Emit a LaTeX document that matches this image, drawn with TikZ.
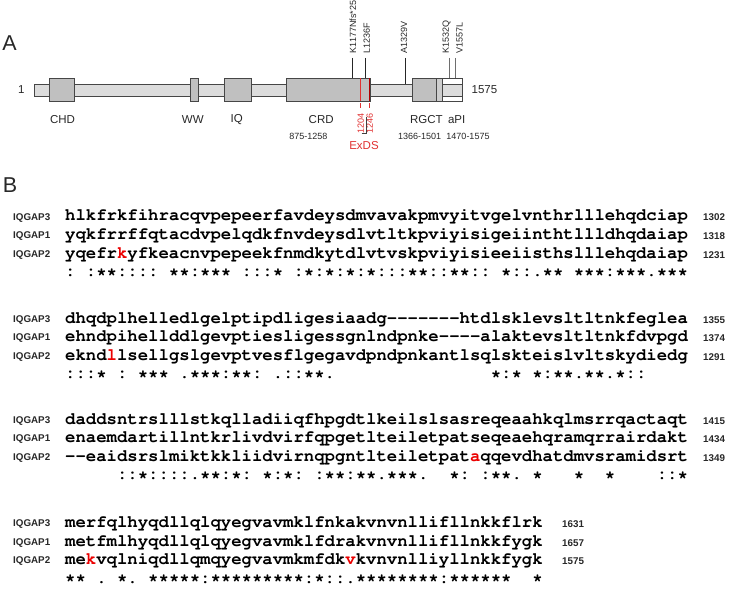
\documentclass[tikz,border=0pt]{standalone}
\usepackage[T1]{fontenc}
\usepackage{fontspec}
\setmainfont{Liberation Sans}
\setmonofont{Liberation Mono}
\definecolor{barc}{RGB}{220,220,220}
\definecolor{domc}{RGB}{192,192,192}
\definecolor{ovc}{RGB}{205,205,205}
\definecolor{edgec}{RGB}{70,70,70}
\definecolor{txtc}{RGB}{40,40,40}
\definecolor{exred}{RGB}{225,50,50}
\definecolor{seqred}{RGB}{235,0,0}
\definecolor{mutg}{RGB}{110,110,110}
\newcommand{\seqfont}{\fontencoding{T1}\fontfamily{pcr}\fontseries{b}\fontshape{n}\fontsize{17.3}{17.3}\selectfont}
\newcommand{\gp}{\mbox{-}}
\begin{document}
\begin{tikzpicture}[x=1pt,y=-1pt,
  seq/.style={anchor=base west, inner sep=0pt, font=\seqfont},
  lab/.style={anchor=base west, inner sep=0pt, font=\bfseries\fontsize{9.8}{10}\selectfont, text=txtc},
  num/.style={anchor=base west, inner sep=0pt, font=\bfseries\fontsize{9.8}{10}\selectfont, text=txtc},
  dlab/.style={inner sep=0pt, font=\fontsize{11.5}{12}\selectfont, text=txtc},
  rng/.style={inner sep=0pt, font=\fontsize{9}{10}\selectfont, text=txtc},
  mut/.style={rotate=90, anchor=west, inner sep=0pt, font=\fontsize{9}{10}\selectfont, text=txtc},
  exlab/.style={rotate=90, anchor=west, inner sep=0pt, font=\fontsize{9}{10}\selectfont, text=exred},
  panel/.style={inner sep=0pt, font=\fontsize{21.5}{22}\selectfont, text=txtc},
  boxd/.style={draw=edgec, line width=0.8pt},
  mline/.style={draw=black!85, line width=0.7pt},
]
\useasboundingbox (0,0) rectangle (734,591);
\fill[white] (0,0) rectangle (734,591);

% ---------------- Panel A ----------------
\node[panel] (pA) at (9.5,43) {A};
\node[panel] (pB) at (10,185) {B};

% backbone
\path[boxd, fill=barc] (34,84) rectangle (462,96);
% domains
\path[boxd, fill=domc] (49,78) rectangle (74,101);
\path[boxd, fill=domc] (190,78) rectangle (198.5,101);
\path[boxd, fill=domc] (224,78) rectangle (251,101);
\path[boxd, fill=domc] (286,78) rectangle (370.7,101);
\path[boxd, fill=domc] (412.5,78) rectangle (442.5,101);
\path[boxd, fill=ovc] (436.7,78) rectangle (442.5,101);
% aPI box
\path[boxd, fill=white] (442.5,78) rectangle (462,101);
\path[boxd, fill=barc] (442.5,84) rectangle (462,96);

% red ExDS lines
\draw[exred, line width=0.9pt] (360.7,78.4) -- (360.7,100.6);
\draw[red!70!black, line width=1.3pt] (369.8,78.4) -- (369.8,100.6);

% coordinates for mutation lines
\coordinate (m1t) at (352.5,58); \coordinate (m1b) at (352.5,78);
\coordinate (m2t) at (365.7,58); \coordinate (m2b) at (365.7,78);
\coordinate (m3t) at (405.5,58); \coordinate (m3b) at (405.5,84);
\coordinate (m4t) at (449,58);   \coordinate (m4b) at (449,78);
\coordinate (m5t) at (455.7,58); \coordinate (m5b) at (455.7,78);
\draw[mline] (m1t) -- (m1b);
\draw[mline] (m2t) -- (m2b);
\draw[mline] (m3t) -- (m3b);
\draw[mutg, line width=0.9pt] (m4t) -- (m4b);
\draw[mutg, line width=0.9pt] (m5t) -- (m5b);

\node[mut] (k1177) at (353,53.5) {K1177Nfs*25};
\node[mut] (l1236) at (366.8,53.5) {L1236F};
\node[mut] (a1329) at (404,53.5) {A1329V};
\node[mut] (k1532) at (446.7,53.5) {K1532Q};
\node[mut] (v1557) at (459.5,53.5) {V1557L};

\node[dlab] (one) at (21.2,90) {1};
\node[dlab, anchor=west] (end) at (471.5,90) {1575};

\node[dlab] (chd) at (62.5,119.5) {CHD};
\node[dlab] (ww) at (192.8,119.5) {WW};
\node[dlab] (iq) at (236.7,119.5) {IQ};
\node[dlab] (crd) at (321.2,119.5) {CRD};
\node[dlab] (rgct) at (426.3,119.5) {RGCT};
\node[dlab] (api) at (456.7,119.5) {aPI};

\node[rng] (r1) at (308.3,136) {875-1258};
\node[rng] (r2) at (419.7,136) {1366-1501};
\node[rng] (r3) at (468,136) {1470-1575};

% ExDS ticks and labels
\coordinate (t1a) at (360.7,103.5); \coordinate (t1b) at (360.7,108.5);
\coordinate (t2a) at (369.8,103.5); \coordinate (t2b) at (369.8,108.5);
\draw[exred, line width=0.8pt] (t1a) -- (t1b);
\draw[exred, line width=0.8pt] (t2a) -- (t2b);
\node[exlab] (e1204) at (360.7,134) {1204};
\node[exlab] (e1246) at (369.8,134) {1246};
\coordinate (bk1) at (361.5,133.5); \coordinate (bk2) at (366,133.5); \coordinate (bk3) at (366,117);
\draw[black!75, line width=0.6pt] (bk1) -- (bk2) -- (bk3);
\node[inner sep=0pt, font=\fontsize{11.5}{12}\selectfont, text=exred] (exds) at (364,146) {ExDS};

% ---------------- Panel B ----------------
\def\xs{65}
\def\xl{13}
% block 1
\node[lab] (l11) at (\xl,220) {IQGAP3};
\node[lab] (l12) at (\xl,238.5) {IQGAP1};
\node[lab] (l13) at (\xl,257) {IQGAP2};
\node[seq] (s11) at (\xs,221) {hlkfrkfihracqvpepeerfavdeysdmvavakpmvyitvgelvnthrlllehqdciap};
\node[seq] (s12) at (\xs,239.5) {yqkfrrffqtacdvpelqdkfnvdeysdlvtltkpviyisigeiinthtllldhqdaiap};
\node[seq] (s13) at (\xs,258) {yqefr{\color{seqred}k}yfkeacnvpepeekfnmdkytdlvtvskpviyisieeiisthslllehqdaiap};
\node[seq] (c1) at (\xs,276.5) {:~:**::::~**:***~:::*~:*:*:*:*:::**::**::~*::.**~***:***.***};
\node[num] (n11) at (703,221) {1302};
\node[num] (n12) at (703,239.5) {1318};
\node[num] (n13) at (703,258) {1231};

% block 2
\node[lab] (l21) at (\xl,322) {IQGAP3};
\node[lab] (l22) at (\xl,340.5) {IQGAP1};
\node[lab] (l23) at (\xl,359) {IQGAP2};
\node[seq] (s21) at (\xs,323) {dhqdplhelledlgelptipdligesiaadg\gp\gp\gp\gp\gp\gp\gp htdlsklevsltltnkfeglea};
\node[seq] (s22) at (\xs,341.5) {ehndpihellddlgevptiesligessgnlndpnke\gp\gp\gp\gp alaktevsltltnkfdvpgd};
\node[seq] (s23) at (\xs,360) {eknd{\color{seqred}l}lsellgslgevptvesflgegavdpndpnkantlsqlskteislvltskydiedg};
\node[seq] (c2) at (\xs,378.5) {:::*~:~***~.***:**:~.::**.~~~~~~~~~~~~~~~*:*~*:**.**.*::};
\node[num] (n21) at (703,323) {1355};
\node[num] (n22) at (703,341.5) {1374};
\node[num] (n23) at (703,360) {1291};

% block 3
\node[lab] (l31) at (\xl,423) {IQGAP3};
\node[lab] (l32) at (\xl,441.5) {IQGAP1};
\node[lab] (l33) at (\xl,460) {IQGAP2};
\node[seq] (s31) at (\xs,424) {daddsntrslllstkqlladiiqfhpgdtlkeilslsasreqeaahkqlmsrrqactaqt};
\node[seq] (s32) at (\xs,442.5) {enaemdartillntkrlivdvirfqpgetlteiletpatseqeaehqramqrrairdakt};
\node[seq] (s33) at (\xs,461) {\gp\gp eaidsrslmiktkkliidvirnqpgntlteiletpat{\color{seqred}a}qqevdhatdmvsramidsrt};
\node[seq] (c3) at (\xs,479.5) {~~~~~::*::::.**:*:~*:*:~:**:**.***.~~*:~:**.~*~~~*~~*~~~~::*};
\node[num] (n31) at (703,424) {1415};
\node[num] (n32) at (703,442.5) {1434};
\node[num] (n33) at (703,461) {1349};

% block 4
\node[lab] (l41) at (\xl,526.5) {IQGAP3};
\node[lab] (l42) at (\xl,545) {IQGAP1};
\node[lab] (l43) at (\xl,563.5) {IQGAP2};
\node[seq] (s41) at (\xs,527.5) {merfqlhyqdllqlqyegvavmklfnkakvnvnllifllnkkflrk};
\node[seq] (s42) at (\xs,546) {metfmlhyqdllqlqyegvavmklfdrakvnvnllifllnkkfygk};
\node[seq] (s43) at (\xs,564.5) {me{\color{seqred}k}vqlniqdllqmqyegvavmkmfdk{\color{seqred}v}kvnvnlliyllnkkfygk};
\node[seq] (c4) at (\xs,583) {**~.~*.~*****:*********:*::.********:******~~*};
\node[num] (n41) at (562,527.5) {1631};
\node[num] (n42) at (562,546) {1657};
\node[num] (n43) at (562,564.5) {1575};
\end{tikzpicture}
\end{document}
